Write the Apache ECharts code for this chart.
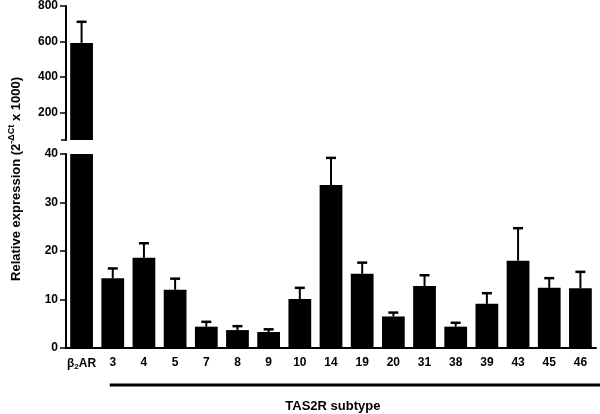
<!DOCTYPE html>
<html>
<head>
<meta charset="utf-8">
<script src="https://cdn.jsdelivr.net/npm/echarts@6/dist/echarts.min.js"></script>
<style>
	html, body { margin: 0; padding: 0; background: #fff; }
	#main { width: 600px; height: 414px; }
</style>
</head>
<body>
<div id="main"></div>
<script>
	const categories = ['β2AR', '3', '4', '5', '7', '8', '9', '10', '14', '19', '20', '31', '38', '39', '43', '45', '46'];
	const means = [592, 14.4, 18.6, 12.0, 4.4, 3.7, 3.3, 10.1, 33.6, 15.3, 6.5, 12.8, 4.4, 9.1, 18.0, 12.4, 12.3];
	const sem = [119, 2.0, 3.0, 2.3, 1.0, 0.8, 0.55, 2.3, 5.6, 2.3, 0.8, 2.2, 0.8, 2.2, 6.7, 2.0, 3.4];
	const topTicks = [200, 400, 600, 800];

	const font = 'Liberation Sans, Arial, sans-serif';

	// top panel holds only the reference gene, bottom panel the TAS2Rs
	const topBars = means.map((v, i) => i === 0 ? v : '-');
	const bottomBars = means.slice(0);
	const topErr = [];
	const bottomErr = [];
	means.forEach((v, i) => {
		const row = [i, v, v + sem[i]];
		if (i === 0) topErr.push(row); else bottomErr.push(row);
	});

	function errorBar(params, api) {
		const base = api.coord([api.value(0), api.value(1)]);
		const hi = api.coord([api.value(0), api.value(2)]);
		const cap = 5;
		return {
			type: 'group',
			children: [{
				type: 'line',
				shape: { x1: base[0], y1: base[1], x2: hi[0], y2: hi[1] },
				style: { stroke: '#000', lineWidth: 2 }
			}, {
				type: 'line',
				shape: { x1: hi[0] - cap, y1: hi[1], x2: hi[0] + cap, y2: hi[1] },
				style: { stroke: '#000', lineWidth: 2.5 }
			}]
		};
	}

	const axisLine = { show: true, onZero: false, lineStyle: { color: '#000', width: 2 } };
	const tickLabel = { color: '#000', fontFamily: font, fontWeight: 'bold', fontSize: 12 };

	const chart = echarts.init(document.getElementById('main'));

	let option = {
		animation: false,
		backgroundColor: '#fff',
		grid: [
			{ left: 66, width: 530, top: 6, height: 134 },
			{ left: 66, width: 530, top: 154, height: 194 }
		],
		xAxis: [{
			type: 'category',
			gridIndex: 0,
			data: categories,
			show: false
		}, {
			type: 'category',
			gridIndex: 1,
			data: categories,
			axisLine: axisLine,
			axisTick: { alignWithLabel: true, length: 5, lineStyle: { color: '#000', width: 1.5 } },
			axisLabel: Object.assign({}, tickLabel, {
				margin: 9,
				interval: 0,
				formatter: v => v === 'β2AR' ? '{b|β}{sub|2}AR' : v,
				rich: {
					b: { fontFamily: font, fontSize: 12, color: '#000' },
					sub: { fontFamily: font, fontSize: 8, fontWeight: 'bold', color: '#000', padding: [6, 0, 0, 0] }
				}
			})
		}],
		yAxis: [{
			type: 'value',
			gridIndex: 0,
			min: 45,
			max: 800,
			splitLine: { show: false },
			axisLine: axisLine,
			axisTick: { show: true, length: 6, customValues: topTicks, lineStyle: { color: '#000', width: 1.5 } },
			axisLabel: Object.assign({}, tickLabel, { margin: 8, customValues: topTicks })
		}, {
			type: 'value',
			gridIndex: 1,
			min: 0,
			max: 40,
			interval: 10,
			splitLine: { show: false },
			axisLine: axisLine,
			axisTick: { show: true, length: 6, lineStyle: { color: '#000', width: 1.5 } },
			axisLabel: Object.assign({}, tickLabel, { margin: 8 })
		}],
		series: [{
			type: 'bar',
			xAxisIndex: 0,
			yAxisIndex: 0,
			data: topBars,
			barCategoryGap: '27%',
			clip: true,
			itemStyle: { color: '#000' }
		}, {
			type: 'bar',
			xAxisIndex: 1,
			yAxisIndex: 1,
			data: bottomBars,
			barCategoryGap: '27%',
			clip: true,
			itemStyle: { color: '#000' }
		}, {
			type: 'custom',
			xAxisIndex: 0,
			yAxisIndex: 0,
			data: topErr,
			renderItem: errorBar,
			z: 3
		}, {
			type: 'custom',
			xAxisIndex: 1,
			yAxisIndex: 1,
			data: bottomErr,
			renderItem: errorBar,
			z: 3
		}]
	};

	chart.setOption(option);

	// bracket under the TAS2R group, placed from the axis itself
	const first = chart.convertToPixel({ xAxisIndex: 1 }, '3');
	const x1 = first - 3;
	const mid = (x1 + 600) / 2;

	chart.setOption({
		graphic: [{
			type: 'line',
			shape: { x1: x1, y1: 385, x2: 600, y2: 385 },
			style: { stroke: '#000', lineWidth: 3 }
		}, {
			type: 'line',
			shape: { x1: 61, y1: 140, x2: 66, y2: 140 },
			style: { stroke: '#000', lineWidth: 1.5 }
		}, {
			type: 'text',
			x: mid - 22,
			y: 406,
			style: {
				text: 'TAS2R subtype',
				font: 'bold 13px ' + font,
				fill: '#000',
				align: 'center',
				verticalAlign: 'middle'
			}
		}, {
			type: 'text',
			x: 16,
			y: 179,
			rotation: Math.PI / 2,
			style: {
				text: 'Relative expression (2{sup|-ΔCt} x 1000)',
				font: 'bold 13px ' + font,
				fill: '#000',
				align: 'center',
				verticalAlign: 'middle',
				rich: {
					sup: { fontFamily: font, fontSize: 9, fontWeight: 'bold', fill: '#000', padding: [0, 0, 8, 0] }
				}
			}
		}]
	});
</script>
</body>
</html>
